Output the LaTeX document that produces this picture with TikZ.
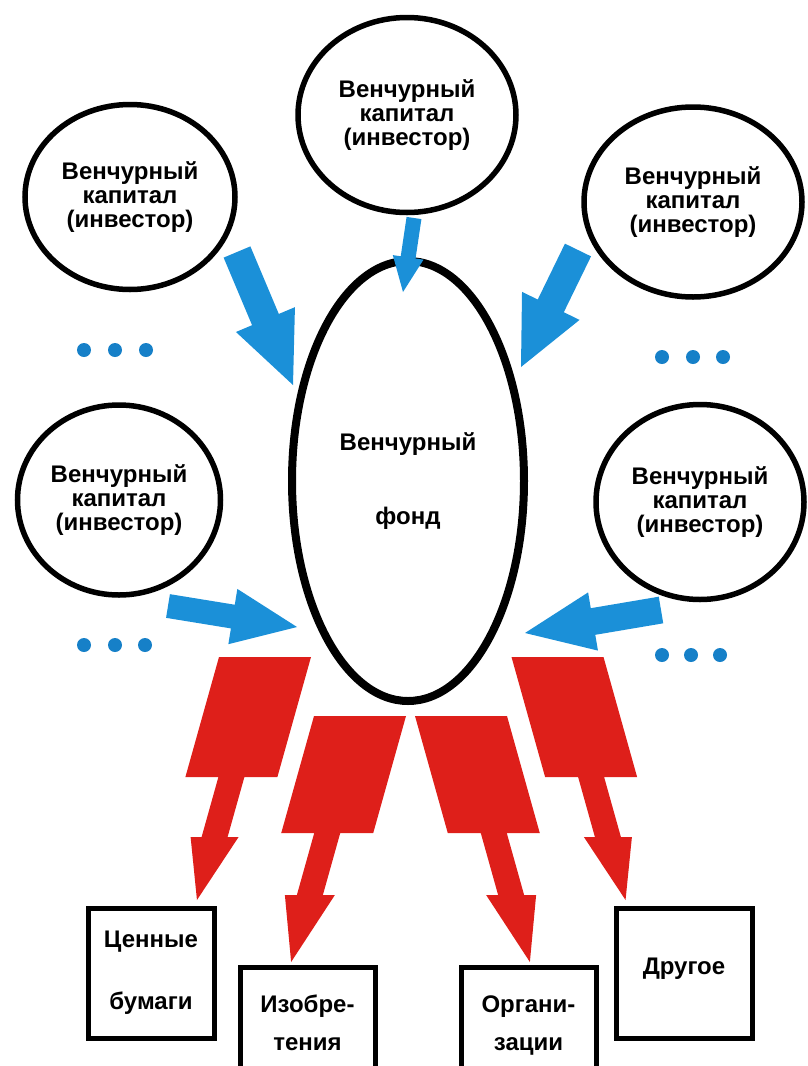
\documentclass[tikz,border=0pt]{standalone}
\usepackage{fontspec}
\setmainfont{Liberation Sans}
\usepackage{tikz}
\usetikzlibrary{shapes.geometric,calc}
\definecolor{FlowBlue}{HTML}{1B90D8}
\definecolor{DotBlue}{HTML}{1680C8}
\definecolor{FlowRed}{HTML}{DE1F1A}
\tikzset{
  investor/.style={ellipse, draw, line width=5.5pt, inner sep=0pt, align=center,
    font=\bfseries\fontsize{24}{24}\selectfont},
  fund/.style={ellipse, draw, line width=8pt, inner sep=0pt, align=center,
    minimum width=232pt, minimum height=440pt, font=\bfseries\fontsize{24}{24}\selectfont},
  asset/.style={rectangle, draw, line width=5pt, inner sep=0pt, align=center,
    anchor=north west, font=\bfseries\fontsize{24}{24}\selectfont},
}
% block arrow: tail, tip, half shaft, half head, head length
\newcommand\bluearrow[5]{%
  \coordinate (flowhead) at ($(#2)!#5!(#1)$);
  \fill[FlowBlue] ($(#1)!#3!90:(#2)$) -- ($(flowhead)!#3!90:(#2)$) -- ($(flowhead)!#4!90:(#2)$) -- (#2)
    -- ($(flowhead)!#4!-90:(#2)$) -- ($(flowhead)!#3!-90:(#2)$) -- ($(#1)!#3!-90:(#2)$) -- cycle;
}
% red bolt: top mid x, top y, slope, block height, shaft length, head length, half head
\newcommand\redarrow[7]{%
  \pgfmathsetmacro\rya{#2+#4}
  \pgfmathsetmacro\ryb{\rya+#5}
  \pgfmathsetmacro\ryc{\ryb+#6}
  \pgfmathsetmacro\rxa{#1+#3*#4}
  \pgfmathsetmacro\rxb{\rxa+#3*#5}
  \pgfmathsetmacro\rxc{\rxb+#3*#6}
  \fill[FlowRed] ({#1-46},#2) -- ({#1+46},#2) -- ({\rxa+46},\rya) -- ({\rxa+13},\rya)
    -- ({\rxb+13},\ryb) -- ({\rxb+#7},\ryb) -- (\rxc,\ryc) -- ({\rxb-#7},\ryb)
    -- ({\rxb-13},\ryb) -- ({\rxa-13},\rya) -- ({\rxa-46},\rya) -- cycle;
}

\begin{document}
\begin{tikzpicture}[x=1pt,y=-1pt]
\useasboundingbox (0,0) rectangle (808,1066);
% investors
\node[investor,minimum width=218pt,minimum height=195pt] (inv-top) at (407,115) {Венчурный\\капитал\\(инвестор)};
\node[investor,minimum width=210pt,minimum height=185pt] (inv-tl) at (130,197) {Венчурный\\капитал\\(инвестор)};
\node[investor,minimum width=218pt,minimum height=190pt] (inv-tr) at (693,202) {Венчурный\\капитал\\(инвестор)};
\node[investor,minimum width=203pt,minimum height=190pt] (inv-bl) at (119,500) {Венчурный\\капитал\\(инвестор)};
\node[investor,minimum width=208pt,minimum height=195pt] (inv-br) at (700,502) {Венчурный\\капитал\\(инвестор)};
% fund
\node[fund] (fund) at (408,481) {Венчурный\\[50pt]фонд};
% assets
\node[asset,text width=126pt,text height=39pt,text depth=91pt] (securities) at (85.5,905.5) {Ценные\\[38pt]бумаги};
\node[asset,text width=135pt,text height=45.5pt,text depth=100pt] (patents) at (237.5,964.5) {Изобре-\\[14pt]тения};
\node[asset,text width=135pt,text height=45.5pt,text depth=100pt] (companies) at (458.5,964.5) {Органи-\\[14pt]зации};
\node[asset,text width=136pt,text height=66pt,text depth=64pt] (other) at (613.5,905.5) {Другое};
% blue flows
\coordinate (tl-out) at (237,252);  \coordinate (tl-in) at (293,385);
\coordinate (top-out) at (414,218); \coordinate (top-in) at (403,292);
\coordinate (tr-out) at (578,250);  \coordinate (tr-in) at (521,367);
\coordinate (bl-out) at (168,606);  \coordinate (bl-in) at (297,627);
\coordinate (br-out) at (661,610);  \coordinate (br-in) at (525,633);
\bluearrow{tl-out}{tl-in}{14.5pt}{32pt}{71pt}
\bluearrow{top-out}{top-in}{7.5pt}{15.5pt}{35pt}
\bluearrow{tr-out}{tr-in}{14.5pt}{32pt}{68pt}
\bluearrow{bl-out}{bl-in}{12pt}{28pt}{65pt}
\bluearrow{br-out}{br-in}{13.5pt}{29.5pt}{69pt}
% red flows
\redarrow{265}{657}{-0.28}{120}{60}{63}{24}
\redarrow{360}{716}{-0.28}{117}{62}{67}{25}
\redarrow{461}{716}{0.28}{117}{62}{67}{25}
\redarrow{557.5}{657}{0.28}{120}{60}{63}{24}
% dots
\foreach \x/\y in {84/350,115/350,146/350,662/357,693/357,723/357,
  84/645,115/645,145/645,662/655,691/655,720/655}
  \fill[DotBlue] (\x,\y) circle (7pt);
\end{tikzpicture}
\end{document}
